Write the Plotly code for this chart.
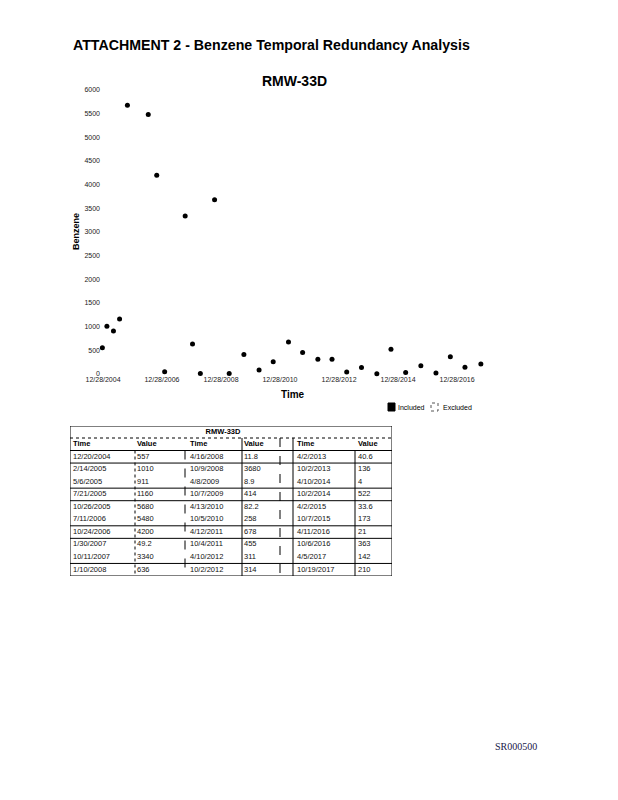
import datetime as dt
import plotly.graph_objects as go

# ---------------- data ----------------
sample_dates = [
    "2004-12-20", "2005-02-14", "2005-05-06", "2005-07-21", "2005-10-26",
    "2006-07-11", "2006-10-24", "2007-01-30", "2007-10-11", "2008-01-10",
    "2008-04-16", "2008-10-09", "2009-04-08", "2009-10-07", "2010-04-13",
    "2010-10-05", "2011-04-12", "2011-10-04", "2012-04-10", "2012-10-02",
    "2013-04-02", "2013-10-02", "2014-04-10", "2014-10-02", "2015-04-02",
    "2015-10-07", "2016-04-11", "2016-10-06", "2017-04-05", "2017-10-19",
]
benzene = [
    557, 1010, 911, 1160, 5680, 5480, 4200, 49.2, 3340, 636,
    11.8, 3680, 8.9, 414, 82.2, 258, 678, 455, 311, 314,
    40.6, 136, 4, 522, 33.6, 173, 21, 363, 142, 210,
]
x_tick_dates = ["2004-12-28", "2006-12-28", "2008-12-28", "2010-12-28",
                "2012-12-28", "2014-12-28", "2016-12-28"]
y_ticks = list(range(0, 6001, 500))
table_headers = ["Time", "Value", "Time", "Value", "Time", "Value"]
well = "RMW-33D"
page_title = "ATTACHMENT 2 - Benzene Temporal Redundancy Analysis"
legend_labels = ["Included", "Excluded"]
doc_id = "SR000500"

# ---------------- helpers ----------------
PAGE_OFF = 8            # default body margin of the html page
W, H = 618 - PAGE_OFF, 800 - PAGE_OFF


def px(x):
    return (x - PAGE_OFF) / W


def py(y):
    return 1 - (y - PAGE_OFF) / H


def mdy(s):
    d = dt.date.fromisoformat(s)
    return f"{d.month}/{d.day}/{d.year}"


FONT = "Liberation Sans, Arial, sans-serif"

fig = go.Figure()

fig.add_trace(go.Scatter(
    x=sample_dates, y=benzene, mode="markers",
    marker=dict(color="black", size=5, symbol="circle"),
    cliponaxis=False, showlegend=False, name=legend_labels[0],
))

# ---------------- table (text on its own pixel-unit axes) ----------------
T_LEFT, T_RIGHT, T_TOP, T_BOTTOM = 70, 392, 426, 576
TITLE_H, HEAD_H = 12, 12.5
ROW_H = (T_BOTTOM - T_TOP - TITLE_H - HEAD_H) / 10
col_left = [70, 135, 185, 242, 293, 355]
col_pad = [3, 2, 5, 2, 4, 3]

date_txt = [mdy(d) for d in sample_dates]
val_txt = [f"{v:g}" for v in benzene]
columns = [
    date_txt[0:10], val_txt[0:10],
    date_txt[10:20], val_txt[10:20],
    date_txt[20:30], val_txt[20:30],
]
head_y = T_TOP + TITLE_H + HEAD_H / 2
row_top0 = T_TOP + TITLE_H + HEAD_H
row_y = [row_top0 + ROW_H * (i + 0.5) for i in range(10)]

for c, texts in enumerate(columns):
    fig.add_trace(go.Scatter(
        x=[col_left[c] + col_pad[c]] * len(texts), y=row_y, text=texts,
        mode="text", textposition="middle right",
        textfont=dict(family=FONT, size=7.5, color="#111"),
        xaxis="x2", yaxis="y2", showlegend=False, hoverinfo="skip", cliponaxis=False,
    ))
fig.add_trace(go.Scatter(
    x=[col_left[c] + col_pad[c] for c in range(6)], y=[head_y] * 6,
    text=[f"<b>{h}</b>" for h in table_headers],
    mode="text", textposition="middle right",
    textfont=dict(family=FONT, size=7.5, color="black"),
    xaxis="x2", yaxis="y2", showlegend=False, hoverinfo="skip", cliponaxis=False,
))
fig.add_trace(go.Scatter(
    x=[(T_LEFT + T_RIGHT) / 2 - 8], y=[T_TOP + TITLE_H / 2], text=[f"<b>{well}</b>"],
    mode="text", textposition="middle center",
    textfont=dict(family=FONT, size=7.5, color="black"),
    xaxis="x2", yaxis="y2", showlegend=False, hoverinfo="skip", cliponaxis=False,
))

shapes = []


def tline(x0, y0, x1, y1, dash="solid", width=1):
    shapes.append(dict(type="line", xref="x2", yref="y2", x0=x0, y0=y0, x1=x1, y1=y1,
                       line=dict(color="black", width=width, dash=dash)))


# outer border
shapes.append(dict(type="rect", xref="x2", yref="y2", x0=T_LEFT, x1=T_RIGHT,
                   y0=T_TOP, y1=T_BOTTOM, line=dict(color="black", width=1)))
# title / header separators
tline(T_LEFT, T_TOP + TITLE_H, T_RIGHT, T_TOP + TITLE_H, dash="dot")
tline(T_LEFT, row_top0, T_RIGHT, row_top0)
# row separators (as visible in the scan)
for r in [1, 3, 4, 6, 7, 9]:
    yy = row_top0 + ROW_H * r
    tline(T_LEFT, yy, T_RIGHT, yy)
# column separators
tline(135, row_top0, 135, T_BOTTOM, dash="dot")
tline(185, row_top0, 185, T_BOTTOM, dash="dash")
tline(242, T_TOP + TITLE_H, 242, T_BOTTOM)
tline(280, T_TOP + TITLE_H, 280, T_BOTTOM, dash="dash")
tline(293, T_TOP + TITLE_H, 293, T_BOTTOM)
tline(355, row_top0, 355, T_BOTTOM)

# legend swatches
shapes.append(dict(type="rect", xref="paper", yref="paper", x0=px(388), x1=px(395),
                   y0=py(411), y1=py(403), fillcolor="black",
                   line=dict(color="black", width=1)))
shapes.append(dict(type="rect", xref="paper", yref="paper", x0=px(431), x1=px(438),
                   y0=py(411), y1=py(403), fillcolor="white",
                   line=dict(color="#555", width=1, dash="dot")))

annotations = [
    dict(text=f"<b>{page_title}</b>", x=px(71), y=py(45), xanchor="left", yanchor="middle",
         font=dict(family=FONT, size=14.2, color="black")),
    dict(text=f"<b>{well}</b>", x=px(294), y=py(81), xanchor="center", yanchor="middle",
         font=dict(family=FONT, size=14, color="black")),
    dict(text="<b>Time</b>", x=px(293), y=py(394), xanchor="center", yanchor="middle",
         font=dict(family=FONT, size=10, color="black")),
    dict(text="<b>Benzene</b>", x=px(76), y=py(232), xanchor="center", yanchor="middle",
         textangle=-90, font=dict(family=FONT, size=9, color="black")),
    dict(text=legend_labels[0], x=px(396), y=py(407), xanchor="left", yanchor="middle",
         font=dict(family=FONT, size=7, color="black")),
    dict(text=legend_labels[1], x=px(441), y=py(407), xanchor="left", yanchor="middle",
         font=dict(family=FONT, size=7, color="black")),
    dict(text=doc_id, x=px(493), y=py(746), xanchor="left", yanchor="middle",
         font=dict(family="Liberation Serif, Times New Roman, serif", size=10, color="#20204a")),
]
for a in annotations:
    a.update(xref="paper", yref="paper", showarrow=False)

hidden = dict(visible=False, showgrid=False, zeroline=False, automargin=False, fixedrange=True)

fig.update_layout(
    width=W, height=H, margin=dict(l=0, r=0, t=0, b=0, pad=0),
    paper_bgcolor="white", plot_bgcolor="white",
    showlegend=False,
    shapes=shapes, annotations=annotations,
    xaxis=dict(
        type="date", domain=[px(101), px(490)],
        range=["2004-12-03", "2018-02-09"],
        tickvals=x_tick_dates, ticktext=[mdy(d) for d in x_tick_dates],
        tickfont=dict(family=FONT, size=7, color="#222"),
        showgrid=False, showline=False, zeroline=False, ticks="", automargin=False,
    ),
    yaxis=dict(
        domain=[py(374), py(90)], range=[0, 6000],
        tickvals=y_ticks, ticktext=[str(v) for v in y_ticks],
        tickfont=dict(family=FONT, size=7, color="#222"),
        showgrid=False, showline=False, zeroline=False, ticks="", automargin=False,
    ),
    xaxis2=dict(domain=[px(T_LEFT), px(T_RIGHT)], range=[T_LEFT, T_RIGHT], anchor="y2", **hidden),
    yaxis2=dict(domain=[py(T_BOTTOM), py(T_TOP)], range=[T_BOTTOM, T_TOP], anchor="x2", **hidden),
)

fig.write_html("out.html")
